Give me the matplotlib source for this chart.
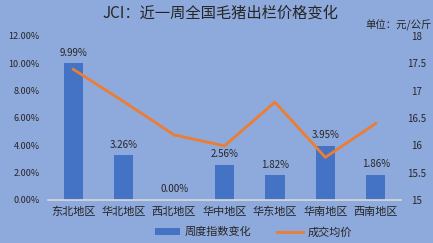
import matplotlib
matplotlib.use("Agg")
import matplotlib.pyplot as plt
from matplotlib.ticker import FuncFormatter

# --------------------------
# Data
# --------------------------
regions = ["东北地区", "华北地区", "西北地区", "华中地区", "华东地区", "华南地区", "西南地区"]
weekly_change = [9.99, 3.26, 0.00, 2.56, 1.82, 3.95, 1.86]   # %
avg_price = [17.39, 16.80, 16.19, 15.99, 16.79, 15.78, 16.40]  # 元/公斤

BG = "#8EA9DB"
BAR = "#4472C4"
LINE = "#ED7D31"
TXT = "#262626"

plt.rcParams["font.family"] = ["Noto Sans CJK SC", "DejaVu Sans"]

fig = plt.figure(figsize=(4.33, 2.43), dpi=100, facecolor=BG)
ax = fig.add_axes([0.111, 0.177, 0.815, 0.675], facecolor=BG)

x = list(range(len(regions)))
bars = ax.bar(x, weekly_change, width=0.38, color=BAR, label="周度指数变化", zorder=2)
ax.set_ylim(0, 12)
ax.set_xlim(-0.5, len(regions) - 0.5)
ax.set_yticks([0, 2, 4, 6, 8, 10, 12])
ax.yaxis.set_major_formatter(FuncFormatter(lambda v, p: f"{v:.2f}%"))
ax.set_xticks(x)
ax.set_xticklabels(regions, fontsize=8, color=TXT)
ax.tick_params(axis="y", labelsize=6.5, colors=TXT, length=0, pad=6)
ax.tick_params(axis="x", length=0, pad=5)

# data labels above the bars
for xi, v in zip(x, weekly_change):
    ax.annotate(f"{v:.2f}%", (xi, v), xytext=(0, 4), textcoords="offset points",
                ha="center", va="bottom", fontsize=7, color=TXT)

for s in ["top", "right", "left"]:
    ax.spines[s].set_visible(False)
ax.spines["bottom"].set_color("#D9D9D9")
ax.spines["bottom"].set_linewidth(1.2)

# price line on the right axis
ax2 = ax.twinx()
ax2.plot(x, avg_price, color=LINE, linewidth=2, label="成交均价", zorder=3)
ax2.set_ylim(15, 18)
ax2.set_yticks([15, 15.5, 16, 16.5, 17, 17.5, 18])
ax2.yaxis.set_major_formatter(FuncFormatter(lambda v, p: f"{v:g}"))
ax2.tick_params(axis="y", labelsize=7, colors=TXT, length=0)
for s in ax2.spines.values():
    s.set_visible(False)
for lbl in ax2.get_yticklabels():
    lbl.set_horizontalalignment("center")
ax2.tick_params(axis="y", pad=11)

fig.text(0.51, 0.946, "JCI：近一周全国毛猪出栏价格变化", ha="center", va="center",
         fontsize=11, color=TXT)
fig.text(0.998, 0.897, "单位：元/公斤", ha="right", va="center", fontsize=7.5, color=TXT)

handles = [bars, ax2.get_lines()[0]]
fig.legend(handles, ["周度指数变化", "成交均价"], loc="center", bbox_to_anchor=(0.585, 0.045),
           ncol=2, frameon=False, fontsize=8, handlelength=2.3, columnspacing=2.3,
           handleheight=0.5, handletextpad=0.4, labelcolor=TXT)

fig.savefig("out.png", dpi=100, facecolor=BG)
